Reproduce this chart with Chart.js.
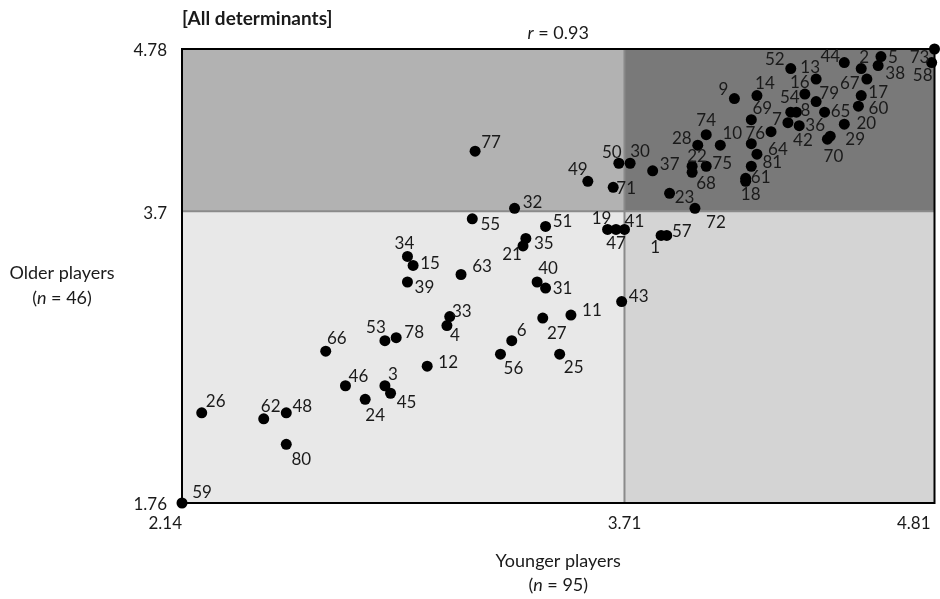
<!DOCTYPE html>
<html lang="en">
<head>
<meta charset="UTF-8">
<title>All determinants</title>
<script src="https://cdn.jsdelivr.net/npm/chart.js"></script>
<style>
  body { margin: 0; background: #fff; }
</style>
</head>
<body>
<canvas id="scatterChart" width="940" height="599"></canvas>
<script>
// determinant numbers (point labels)
const ids = [
  1, 2, 3, 4, 5, 6, 7, 8, 9, 10, 11, 12, 13, 14, 15, 16, 17, 18, 19, 20,
  21, 22, 23, 24, 25, 26, 27, 28, 29, 30, 31, 32, 33, 34, 35, 36, 37, 38, 39, 40,
  41, 42, 43, 44, 45, 46, 47, 48, 49, 50, 51, 52, 53, 54, 55, 56, 57, 58, 59, 60,
  61, 62, 63, 64, 65, 66, 67, 68, 69, 70, 71, 72, 73, 74, 75, 76, 77, 78, 79, 80, 81
];
// mean score, younger players (x)
const younger = [
  3.84, 4.55, 2.86, 3.08, 4.62, 3.31, 4.23, 4.32, 4.10, 4.05,
  3.52, 3.01, 4.39, 4.18, 2.96, 4.35, 4.55, 4.14, 3.65, 4.49,
  3.35, 3.95, 3.87, 2.79, 3.48, 2.21, 3.42, 3.97, 4.44, 3.73,
  3.43, 3.32, 3.09, 2.94, 3.36, 4.33, 3.81, 4.61, 2.94, 3.40,
  3.71, 4.29, 3.70, 4.49, 2.88, 2.72, 3.68, 2.51, 3.58, 3.69,
  3.43, 4.30, 2.86, 4.30, 3.17, 3.27, 3.86, 4.80, 2.14, 4.54,
  4.14, 2.43, 3.13, 4.18, 4.42, 2.65, 4.57, 3.95, 4.16, 4.43,
  3.67, 3.96, 4.81, 4.00, 4.00, 4.16, 3.18, 2.90, 4.39, 2.51, 4.16
];
// mean score, older players (y)
const older = [
  3.54, 4.65, 2.54, 2.94, 4.73, 2.84, 4.23, 4.36, 4.45, 4.14,
  3.01, 2.67, 4.58, 4.47, 3.34, 4.48, 4.47, 3.90, 3.58, 4.28,
  3.47, 4.00, 3.82, 2.45, 2.75, 2.36, 2.99, 4.14, 4.20, 4.02,
  3.19, 3.72, 3.00, 3.40, 3.52, 4.27, 3.97, 4.67, 3.23, 3.23,
  3.58, 4.29, 3.10, 4.69, 2.49, 2.54, 3.58, 2.36, 3.90, 4.02,
  3.60, 4.65, 2.84, 4.36, 3.65, 2.75, 3.54, 4.69, 1.76, 4.40,
  3.92, 2.32, 3.28, 4.08, 4.36, 2.77, 4.58, 3.96, 4.31, 4.18,
  3.86, 3.72, 4.78, 4.21, 4.00, 4.15, 4.10, 2.86, 4.43, 2.15, 4.00
];
const xTicks = [2.14, 3.71, 4.81];
const yTicks = [1.76, 3.7, 4.78];
const xSplit = 3.71;
const ySplit = 3.7;

// where each number sits relative to its dot (px)
const labelOffsets = {
  1: [-6, 12], 2: [3, -11], 3: [8, -11], 4: [8, 10], 5: [12, 1], 6: [10, -10],
  7: [6, -12], 8: [9, -2], 9: [-11, -9], 10: [12, -12], 11: [21, -5], 12: [21, -4],
  13: [-6, -12], 14: [8, -12], 15: [17, -2], 16: [-5, -12], 17: [17, -3], 18: [5, 13],
  19: [-6, -11], 20: [22, -1], 21: [-11, 9], 22: [5, -10], 23: [15, 4], 24: [10, 16],
  25: [14, 13], 26: [14, -11], 27: [14, 15], 28: [-16, -7], 29: [25, 3], 30: [10, -12],
  31: [17, 0], 32: [18, -6], 33: [12, -5], 34: [-3, -13], 35: [18, 5], 36: [16, 0],
  37: [17, -6], 38: [17, 8], 39: [17, 6], 40: [11, -13], 41: [10, -8], 42: [15, 18],
  43: [17, -5], 44: [-14, -6], 45: [16, 9], 46: [13, -9], 47: [0, 14], 48: [16, -6],
  49: [-10, -12], 50: [-7, -11], 51: [17, -5], 52: [-16, -9], 53: [-9, -13], 54: [-1, -15],
  55: [18, 6], 56: [13, 14], 57: [15, -4], 58: [-9, 13], 59: [20, -10], 60: [20, 2],
  61: [15, -1], 62: [7, -12], 63: [21, -8], 64: [21, -5], 65: [16, -1], 66: [11, -13],
  67: [-17, 4], 68: [14, 11], 69: [11, -11], 70: [6, 17], 71: [13, 1], 72: [21, 14],
  73: [-15, 9], 74: [0, -14], 75: [16, -3], 76: [4, -10], 77: [16, -9], 78: [18, -5],
  79: [13, -8], 80: [15, 15], 81: [21, -4]
};

const FONT = 'Lato, "Open Sans", sans-serif';
const TEXT = '#1a1a1a';

// draw a line of text where some parts are italic, centred on cx
function drawMixed(ctx, parts, cx, cy, size) {
  let total = 0;
  parts.forEach(p => {
    ctx.font = (p.i ? 'italic ' : '') + size + 'px ' + FONT;
    p.w = ctx.measureText(p.t).width;
    total += p.w;
  });
  let x = cx - total / 2;
  ctx.textAlign = 'left';
  ctx.textBaseline = 'middle';
  parts.forEach(p => {
    ctx.font = (p.i ? 'italic ' : '') + size + 'px ' + FONT;
    ctx.fillText(p.t, x, cy);
    x += p.w;
  });
}

const quadrantPlugin = {
  id: 'quadrants',
  beforeDatasetsDraw(chart) {
    const { ctx, chartArea: a, scales: { x, y } } = chart;
    const mx = x.getPixelForValue(xSplit);
    const my = y.getPixelForValue(ySplit);
    ctx.save();
    ctx.fillStyle = '#b2b2b2';
    ctx.fillRect(a.left, a.top, mx - a.left, my - a.top);
    ctx.fillStyle = '#797979';
    ctx.fillRect(mx, a.top, a.right - mx, my - a.top);
    ctx.fillStyle = '#e8e8e8';
    ctx.fillRect(a.left, my, mx - a.left, a.bottom - my);
    ctx.fillStyle = '#d4d4d4';
    ctx.fillRect(mx, my, a.right - mx, a.bottom - my);
    // dividers
    ctx.strokeStyle = '#8a8a8a';
    ctx.lineWidth = 2;
    ctx.beginPath();
    ctx.moveTo(mx, a.top); ctx.lineTo(mx, a.bottom);
    ctx.moveTo(a.left, my); ctx.lineTo(a.right, my);
    ctx.stroke();
    // frame
    ctx.strokeStyle = '#000';
    ctx.lineWidth = 2;
    ctx.strokeRect(a.left, a.top, a.right - a.left, a.bottom - a.top);
    ctx.restore();
  },
  afterDatasetsDraw(chart) {
    const { ctx } = chart;
    const meta = chart.getDatasetMeta(0);
    ctx.save();
    ctx.fillStyle = TEXT;
    ctx.font = '17px ' + FONT;
    ctx.textAlign = 'center';
    ctx.textBaseline = 'middle';
    meta.data.forEach((pt, i) => {
      const id = ids[i];
      const off = labelOffsets[id] || [12, -12];
      ctx.fillText(String(id), pt.x + off[0], pt.y + off[1]);
    });
    ctx.restore();
  },
  afterDraw(chart) {
    const { ctx, chartArea: a, scales: { x, y } } = chart;
    ctx.save();
    ctx.fillStyle = TEXT;

    // tick labels
    ctx.font = '17px ' + FONT;
    ctx.textBaseline = 'middle';
    ctx.textAlign = 'right';
    yTicks.forEach(v => ctx.fillText(String(v), a.left - 15, y.getPixelForValue(v) + 2));
    xTicks.forEach((v, i) => {
      const px = x.getPixelForValue(v);
      if (i === 0) { ctx.textAlign = 'right'; ctx.fillText(v.toFixed(2), px, a.bottom + 21); }
      else if (i === xTicks.length - 1) { ctx.textAlign = 'right'; ctx.fillText(v.toFixed(2), px - 4, a.bottom + 21); }
      else { ctx.textAlign = 'center'; ctx.fillText(v.toFixed(2), px, a.bottom + 21); }
    });

    // panel title
    ctx.font = 'bold 19px ' + FONT;
    ctx.textAlign = 'left';
    ctx.fillText('[All determinants]', a.left, 19);

    const cx = (a.left + a.right) / 2;
    drawMixed(ctx, [{ t: 'r', i: true }, { t: ' = 0.93', i: false }], cx, 33, 18);

    // axis titles
    drawMixed(ctx, [{ t: 'Older players', i: false }], 62, 273, 18);
    drawMixed(ctx, [{ t: '(', i: false }, { t: 'n', i: true }, { t: ' = 46)', i: false }], 62, 298, 18);
    drawMixed(ctx, [{ t: 'Younger players', i: false }], cx, 561, 18);
    drawMixed(ctx, [{ t: '(', i: false }, { t: 'n', i: true }, { t: ' = 95)', i: false }], cx, 585, 18);
    ctx.restore();
  }
};

new Chart(document.getElementById('scatterChart'), {
  type: 'scatter',
  data: {
    datasets: [{
      label: 'Determinants',
      data: ids.map((id, i) => ({ x: younger[i], y: older[i] })),
      backgroundColor: '#000',
      borderWidth: 0,
      pointRadius: 5.5,
      clip: false
    }]
  },
  options: {
    responsive: false,
    animation: false,
    layout: { padding: { left: 182, right: 3, top: 49, bottom: 96 } },
    scales: {
      x: { type: 'linear', min: 2.14, max: 4.81, display: false },
      y: { type: 'linear', min: 1.76, max: 4.78, display: false }
    },
    plugins: {
      legend: { display: false },
      tooltip: { enabled: false }
    }
  },
  plugins: [quadrantPlugin]
});
</script>
</body>
</html>
